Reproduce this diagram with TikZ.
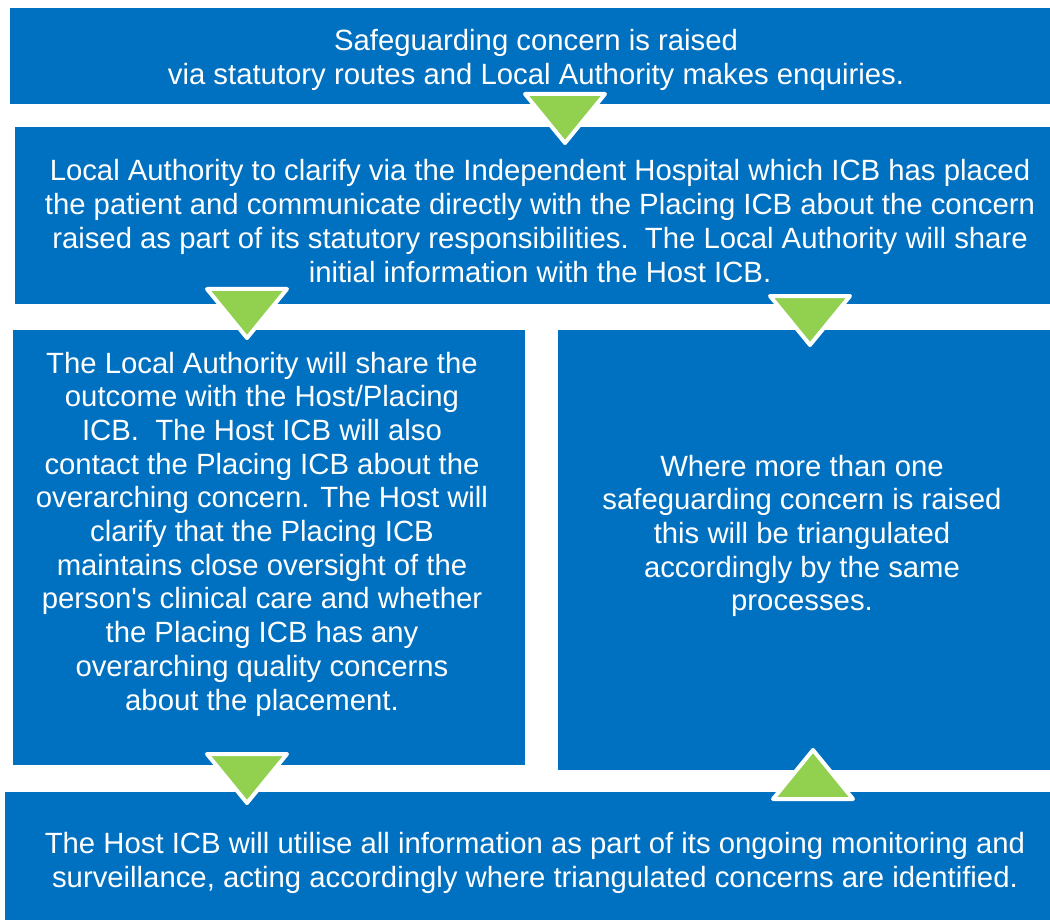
\documentclass[tikz,border=0pt]{standalone}
\usepackage{fontspec}
\setmainfont{Liberation Sans}
\usetikzlibrary{positioning}
\definecolor{nhsblue}{HTML}{0070C0}
\definecolor{flowgreen}{HTML}{92D050}

\begin{document}
\begin{tikzpicture}[x=1pt, y=-1pt, font=\fontsize{29.3}{33.7}\selectfont]
\tikzstyle{box}=[fill=nhsblue, inner sep=0pt, anchor=north west]
\tikzstyle{txt}=[text=white, align=center, inner sep=0pt]
\tikzstyle{tri}=[fill=flowgreen, draw=white, line width=4pt, line join=round]
\tikzset{tridown/.pic={\path[tri] (-40,2) -- (40,2) -- (0,51) -- cycle;},
         triup/.pic={\path[tri] (-40,-2) -- (40,-2) -- (0,-51) -- cycle;}}
\useasboundingbox (0,0) rectangle (1050,920);
% panels
\node[box, minimum width=1040pt, minimum height=96pt] (b1) at (10,8) {};
\node[box, minimum width=1035pt, minimum height=177pt] (b2) at (15,127) {};
\node[box, minimum width=512pt, minimum height=435pt] (b3) at (13,330) {};
\node[box, minimum width=492pt, minimum height=440pt] (b4) at (558,330) {};
\node[box, minimum width=1045pt, minimum height=128pt] (b5) at (5,792) {};
% step markers
\foreach \n/\x/\y in {d1/565/92,d2/247/287,d3/810/294,d4/247/752}{\pic (\n) at (\x,\y) {tridown};}
\pic (u1) at (813,801) {triup};
% texts
\node[txt] (l1) at (536,60) {Safeguarding concern is raised\\via statutory routes and Local Authority makes enquiries.};
\node[txt] (l2) at (540,221) {Local Authority to clarify via the Independent Hospital which ICB has placed\\the patient and communicate directly with the Placing ICB about the concern\\raised as part of its statutory responsibilities.\ \ The Local Authority will share\\initial information with the Host ICB.};
\node[txt] (l3) at (262,534) {The Local Authority will share the\\outcome with the Host/Placing\\ICB.\ \ The Host ICB will also\\contact the Placing ICB about the\\overarching concern. The Host will\\clarify that the Placing ICB\\maintains close oversight of the\\person\textquotesingle s clinical care and whether\\the Placing ICB has any\\overarching quality concerns\\about the placement.};
\node[txt] (l4) at (802,536) {Where more than one\\safeguarding concern is raised\\this will be triangulated\\accordingly by the same\\processes.};
\node[txt] (l5) at (535,863) {The Host ICB will utilise all information as part of its ongoing monitoring and\\surveillance, acting accordingly where triangulated concerns are identified.};
\end{tikzpicture}
\end{document}
